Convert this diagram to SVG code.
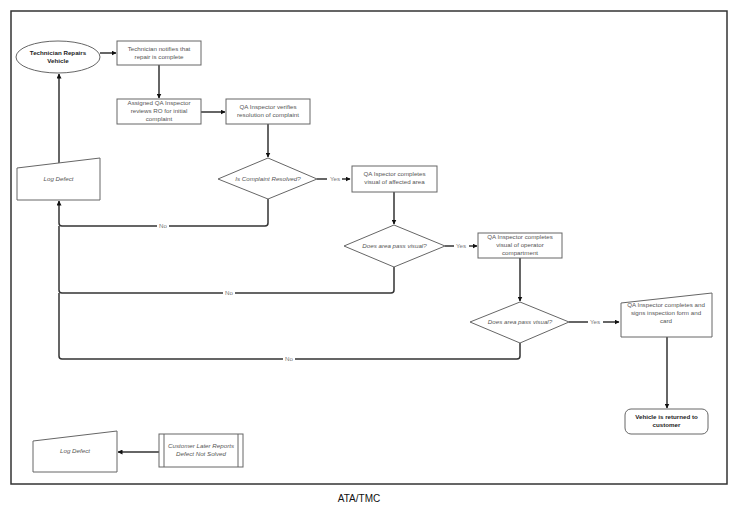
<svg xmlns="http://www.w3.org/2000/svg" width="737" height="512" viewBox="0 0 737 512">
<style>
.nd{fill:#fff;stroke:#666;stroke-width:1}
.t{font-family:"Liberation Sans",Arial,sans-serif;font-size:6.2px;fill:#555;text-anchor:middle}
.i{font-style:italic}
.b{font-weight:bold;fill:#222}
.c{fill:none;stroke:#333;stroke-width:1.5}
.lb{font-family:"Liberation Sans",Arial,sans-serif;font-size:6.2px;fill:#777;text-anchor:middle}
</style>
<defs>
<marker id="ah" viewBox="0 0 10 10" refX="9" refY="5" markerWidth="5" markerHeight="5" orient="auto" markerUnits="userSpaceOnUse">
<path d="M0,0 L10,5 L0,10 z" fill="#111"/>
</marker>
</defs>
<rect width="737" height="512" fill="#fff"/>
<rect x="11" y="11" width="716" height="473" fill="none" stroke="#333" stroke-width="1.5"/>
<text x="359" y="502" font-family="Liberation Sans, Arial, sans-serif" font-size="10" fill="#111" text-anchor="middle">ATA/TMC</text>

<g id="connectors">
<path class="c" d="M100,53 L116,53" marker-end="url(#ah)"/>
<path class="c" d="M159,65 L159,98" marker-end="url(#ah)"/>
<path class="c" d="M201,112 L225,112" marker-end="url(#ah)"/>
<path class="c" d="M268,124 L268,157" marker-end="url(#ah)"/>
<path class="c" d="M317,179 L350,179" marker-end="url(#ah)"/>
<path class="c" d="M394,192 L394,224" marker-end="url(#ah)"/>
<path class="c" d="M445,246 L477,246" marker-end="url(#ah)"/>
<path class="c" d="M520,258 L520,301" marker-end="url(#ah)"/>
<path class="c" d="M569,322 L619,322" marker-end="url(#ah)"/>
<path class="c" d="M667,337 L667,408" marker-end="url(#ah)"/>
<path class="c" d="M59,163 L59,74" marker-end="url(#ah)"/>
<path class="c" d="M268,199 L268,223 Q268,226 265,226 L62,226 Q59,226 59,223 L59,201" marker-end="url(#ah)"/>
<path class="c" d="M394,267 L394,290 Q394,293 391,293 L62,293 Q59,293 59,290 L59,226"/>
<path class="c" d="M520,343 L520,356 Q520,359 517,359 L62,359 Q59,359 59,356 L59,293"/>
<path class="c" d="M159,452 L118,452" marker-end="url(#ah)"/>
<rect x="327" y="175" width="15" height="8" fill="#fff"/>
<text class="lb" x="335" y="181.3">Yes</text>
<rect x="454" y="242" width="15" height="8" fill="#fff"/>
<text class="lb" x="461" y="248.3">Yes</text>
<rect x="588" y="318" width="15" height="8" fill="#fff"/>
<text class="lb" x="595" y="324.3">Yes</text>
<rect x="157" y="222" width="12" height="8" fill="#fff"/>
<text class="lb" x="163" y="228.3">No</text>
<rect x="223" y="289" width="12" height="8" fill="#fff"/>
<text class="lb" x="229" y="295.3">No</text>
<rect x="283" y="355" width="12" height="8" fill="#fff"/>
<text class="lb" x="289" y="361.3">No</text>
</g>

<g id="n-repairs">
<ellipse class="nd" cx="58" cy="57" rx="42" ry="16"/>
<text class="t b" x="58" y="54.5">Technician Repairs</text>
<text class="t b" x="58" y="62.5">Vehicle</text>
</g>
<g id="n-notifies">
<rect class="nd" x="117" y="41" width="84" height="24"/>
<text class="t" x="159" y="50.5">Technician notifies that</text>
<text class="t" x="159" y="58.5">repair is complete</text>
</g>
<g id="n-assigned">
<rect class="nd" x="117" y="99" width="84" height="25"/>
<text class="t" x="159" y="104.5">Assigned QA Inspector</text>
<text class="t" x="159" y="112.5">reviews RO for initial</text>
<text class="t" x="159" y="120.5">complaint</text>
</g>
<g id="n-verifies">
<rect class="nd" x="226" y="99" width="84" height="25"/>
<text class="t" x="268" y="108.5">QA Inspector verifies</text>
<text class="t" x="268" y="116.5">resolution of complaint</text>
</g>
<g id="n-resolved">
<polygon class="nd" points="268,158 317,179 268,199 218,179"/>
<text class="t i" x="268" y="181">Is Complaint Resolved?</text>
</g>
<g id="n-affected">
<rect class="nd" x="352" y="166" width="85" height="26"/>
<text class="t" x="394.5" y="176">QA Ispector completes</text>
<text class="t" x="394.5" y="184">visual of affected area</text>
</g>
<g id="n-pass1">
<polygon class="nd" points="394,225 445,246 394,267 344,246"/>
<text class="t i" x="394.5" y="248">Does area pass visual?</text>
</g>
<g id="n-operator">
<rect class="nd" x="478" y="233" width="84" height="25"/>
<text class="t" x="520" y="239">QA Inspector completes</text>
<text class="t" x="520" y="247">visual of operator</text>
<text class="t" x="520" y="255">compartment</text>
</g>
<g id="n-pass2">
<polygon class="nd" points="520,302 569,322 520,343 470,322"/>
<text class="t i" x="520" y="324">Does area pass visual?</text>
</g>
<g id="n-signs">
<polygon class="nd" points="621,303 712,293 712,337 621,337"/>
<text class="t" x="666" y="307">QA Inspector completes and</text>
<text class="t" x="666" y="315">signs inspection form and</text>
<text class="t" x="666" y="323">card</text>
</g>
<g id="n-returned">
<rect class="nd" x="625" y="409" width="83" height="25" rx="6"/>
<text class="t b" x="666.5" y="419">Vehicle is returned to</text>
<text class="t b" x="666.5" y="427">customer</text>
</g>
<g id="n-log1">
<polygon class="nd" points="17,168 100,158 100,200 17,200"/>
<text class="t i" x="58.5" y="181">Log Defect</text>
</g>
<g id="n-log2">
<polygon class="nd" points="33,441 117,431 117,472 33,472"/>
<text class="t i" x="75" y="453">Log Defect</text>
</g>
<g id="n-customer">
<rect class="nd" x="159" y="434" width="84" height="33"/>
<line class="nd" x1="164" y1="434" x2="164" y2="467"/>
<line class="nd" x1="238" y1="434" x2="238" y2="467"/>
<text class="t i" x="201" y="448">Customer Later Reports</text>
<text class="t i" x="201" y="456">Defect Not Solved</text>
</g>
</svg>
